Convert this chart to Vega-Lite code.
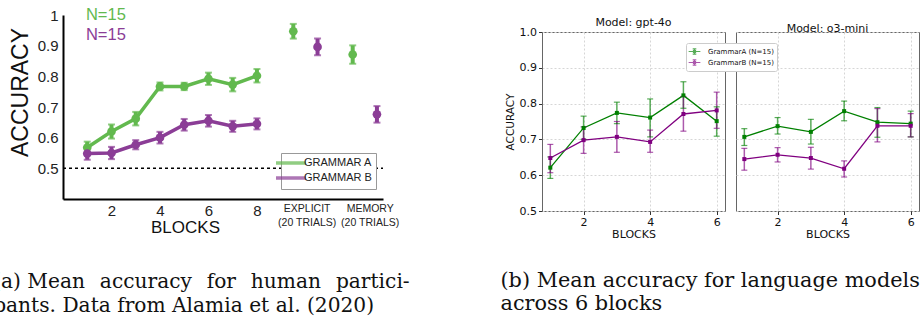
{
  "$schema": "https://vega.github.io/schema/vega-lite/v6.json",
  "background": "white",
  "padding": {"left": -7, "top": 7, "right": 0, "bottom": 0},
  "config": {"view": {"stroke": null}, "font": "Liberation Sans"},
  "datasets": {
    "human": [
      {"phase": "blocks", "grammar": "GRAMMAR A", "pos": 1, "acc": 0.568, "lo": 0.549, "hi": 0.587},
      {"phase": "blocks", "grammar": "GRAMMAR A", "pos": 2, "acc": 0.62, "lo": 0.597, "hi": 0.643},
      {"phase": "blocks", "grammar": "GRAMMAR A", "pos": 3, "acc": 0.662, "lo": 0.64, "hi": 0.684},
      {"phase": "blocks", "grammar": "GRAMMAR A", "pos": 4, "acc": 0.767, "lo": 0.754, "hi": 0.78},
      {"phase": "blocks", "grammar": "GRAMMAR A", "pos": 5, "acc": 0.767, "lo": 0.755, "hi": 0.779},
      {"phase": "blocks", "grammar": "GRAMMAR A", "pos": 6, "acc": 0.792, "lo": 0.772, "hi": 0.812},
      {"phase": "blocks", "grammar": "GRAMMAR A", "pos": 7, "acc": 0.773, "lo": 0.751, "hi": 0.795},
      {"phase": "blocks", "grammar": "GRAMMAR A", "pos": 8, "acc": 0.802, "lo": 0.78, "hi": 0.824},
      {"phase": "blocks", "grammar": "GRAMMAR B", "pos": 1, "acc": 0.548, "lo": 0.528, "hi": 0.568},
      {"phase": "blocks", "grammar": "GRAMMAR B", "pos": 2, "acc": 0.55, "lo": 0.53, "hi": 0.57},
      {"phase": "blocks", "grammar": "GRAMMAR B", "pos": 3, "acc": 0.577, "lo": 0.562, "hi": 0.592},
      {"phase": "blocks", "grammar": "GRAMMAR B", "pos": 4, "acc": 0.6, "lo": 0.581, "hi": 0.619},
      {"phase": "blocks", "grammar": "GRAMMAR B", "pos": 5, "acc": 0.642, "lo": 0.623, "hi": 0.661},
      {"phase": "blocks", "grammar": "GRAMMAR B", "pos": 6, "acc": 0.655, "lo": 0.636, "hi": 0.674},
      {"phase": "blocks", "grammar": "GRAMMAR B", "pos": 7, "acc": 0.637, "lo": 0.619, "hi": 0.655},
      {"phase": "blocks", "grammar": "GRAMMAR B", "pos": 8, "acc": 0.645, "lo": 0.627, "hi": 0.663},
      {"phase": "explicit", "grammar": "GRAMMAR A", "pos": 9.5, "acc": 0.947, "lo": 0.923, "hi": 0.971},
      {"phase": "explicit", "grammar": "GRAMMAR B", "pos": 10.5, "acc": 0.896, "lo": 0.869, "hi": 0.923},
      {"phase": "memory", "grammar": "GRAMMAR A", "pos": 11.95, "acc": 0.871, "lo": 0.841, "hi": 0.901},
      {"phase": "memory", "grammar": "GRAMMAR B", "pos": 12.95, "acc": 0.676, "lo": 0.649, "hi": 0.703}
    ],
    "llm": [
      {"model": "gpt-4o", "grammar": "GrammarA (N=15)", "block": 1, "acc": 0.621, "lo": 0.591, "hi": 0.651},
      {"model": "gpt-4o", "grammar": "GrammarA (N=15)", "block": 2, "acc": 0.732, "lo": 0.7, "hi": 0.765},
      {"model": "gpt-4o", "grammar": "GrammarA (N=15)", "block": 3, "acc": 0.774, "lo": 0.744, "hi": 0.804},
      {"model": "gpt-4o", "grammar": "GrammarA (N=15)", "block": 4, "acc": 0.761, "lo": 0.707, "hi": 0.813},
      {"model": "gpt-4o", "grammar": "GrammarA (N=15)", "block": 5, "acc": 0.823, "lo": 0.787, "hi": 0.861},
      {"model": "gpt-4o", "grammar": "GrammarA (N=15)", "block": 6, "acc": 0.751, "lo": 0.709, "hi": 0.791},
      {"model": "gpt-4o", "grammar": "GrammarB (N=15)", "block": 1, "acc": 0.648, "lo": 0.607, "hi": 0.686},
      {"model": "gpt-4o", "grammar": "GrammarB (N=15)", "block": 2, "acc": 0.698, "lo": 0.661, "hi": 0.735},
      {"model": "gpt-4o", "grammar": "GrammarB (N=15)", "block": 3, "acc": 0.707, "lo": 0.664, "hi": 0.75},
      {"model": "gpt-4o", "grammar": "GrammarB (N=15)", "block": 4, "acc": 0.693, "lo": 0.664, "hi": 0.726},
      {"model": "gpt-4o", "grammar": "GrammarB (N=15)", "block": 5, "acc": 0.771, "lo": 0.723, "hi": 0.82},
      {"model": "gpt-4o", "grammar": "GrammarB (N=15)", "block": 6, "acc": 0.781, "lo": 0.731, "hi": 0.832},
      {"model": "o3-mini", "grammar": "GrammarA (N=15)", "block": 1, "acc": 0.707, "lo": 0.683, "hi": 0.73},
      {"model": "o3-mini", "grammar": "GrammarA (N=15)", "block": 2, "acc": 0.737, "lo": 0.715, "hi": 0.761},
      {"model": "o3-mini", "grammar": "GrammarA (N=15)", "block": 3, "acc": 0.721, "lo": 0.687, "hi": 0.756},
      {"model": "o3-mini", "grammar": "GrammarA (N=15)", "block": 4, "acc": 0.779, "lo": 0.752, "hi": 0.807},
      {"model": "o3-mini", "grammar": "GrammarA (N=15)", "block": 5, "acc": 0.748, "lo": 0.706, "hi": 0.789},
      {"model": "o3-mini", "grammar": "GrammarA (N=15)", "block": 6, "acc": 0.744, "lo": 0.707, "hi": 0.779},
      {"model": "o3-mini", "grammar": "GrammarB (N=15)", "block": 1, "acc": 0.645, "lo": 0.614, "hi": 0.675},
      {"model": "o3-mini", "grammar": "GrammarB (N=15)", "block": 2, "acc": 0.657, "lo": 0.637, "hi": 0.677},
      {"model": "o3-mini", "grammar": "GrammarB (N=15)", "block": 3, "acc": 0.648, "lo": 0.617, "hi": 0.678},
      {"model": "o3-mini", "grammar": "GrammarB (N=15)", "block": 4, "acc": 0.618, "lo": 0.595, "hi": 0.64},
      {"model": "o3-mini", "grammar": "GrammarB (N=15)", "block": 5, "acc": 0.738, "lo": 0.693, "hi": 0.786},
      {"model": "o3-mini", "grammar": "GrammarB (N=15)", "block": 6, "acc": 0.738, "lo": 0.707, "hi": 0.772}
    ]
  },
  "resolve": {"scale": {"color": "independent", "x": "independent", "y": "independent"}, "legend": {"color": "independent"}},
  "align": "none",
  "spacing": 90,
  "hconcat": [
    {
      "width": 320,
      "height": 167,
      "data": {"name": "human"},
      "title": {"text": ["(a) Mean\u00a0\u200a accuracy\u00a0\u200a for\u00a0\u200a human\u00a0\u200a partici-", "pants. Data from Alamia et al. (2020)"], "orient": "bottom", "anchor": "start", "frame": "bounds", "offset": 37, "dx": -16, "font": "DejaVu Serif", "fontSize": 20.2, "fontWeight": "normal", "lineHeight": 24, "color": "#111"},
      "layer": [
        {
          "transform": [{"filter": "datum.phase == 'blocks'"}],
          "mark": {"type": "line", "strokeWidth": 3.5},
          "encoding": {
            "x": {"field": "pos", "type": "quantitative", "scale": {"domain": [0, 13.2], "nice": false, "zero": false},
              "axis": {"values": [2, 4, 6, 8, 10.05, 12.65], "tickCount": 20, "format": "d", "labelExpr": "datum.value > 12 ? ['MEMORY', '(20 TRIALS)'] : datum.value > 9 ? ['EXPLICIT', '(20 TRIALS)'] : datum.label",
                "labelFontSize": {"condition": {"test": "datum.value > 9", "value": 10.5}, "value": 15},
                "labelLineHeight": 14, "labelOverlap": false, "labelFlush": false, "labelBound": false,
                "ticks": false, "grid": false, "domainColor": "black", "domainWidth": 2, "labelColor": "#222", "labelPadding": 4,
                "title": "BLOCKS", "titleFontSize": 17, "titleFontWeight": "normal", "titleColor": "#111", "titleX": 122, "titleY": 20, "titleBaseline": "top"}},
            "y": {"field": "acc", "type": "quantitative", "scale": {"domain": [0.4, 1.0], "range": [167, -17], "nice": false, "zero": false},
              "axis": {"values": [0.5, 0.6, 0.7, 0.8, 0.9, 1.0], "tickCount": 20, "format": "~g", "labelFontSize": 15, "labelColor": "#222", "labelPadding": 5,
                "ticks": false, "grid": false, "domainColor": "black", "domainWidth": 2, "labelFlush": false, "labelOverlap": false,
                "title": "ACCURACY", "titleFontSize": 23, "titleFontWeight": "normal", "titleColor": "#111", "titleY": 60, "titlePadding": 5}},
            "color": {"field": "grammar", "type": "nominal", "scale": {"domain": ["GRAMMAR A", "GRAMMAR B"], "range": ["#62b94e", "#8b3d96"]},
              "legend": {"orient": "none", "legendX": 218, "legendY": 121, "title": null, "symbolType": "M-3.75,0H3.75", "symbolSize": 64, "symbolStrokeWidth": 3.5,
                "labelFontSize": 11, "labelColor": "#222", "labelOffset": 7, "padding": 4, "rowPadding": 1,
                "strokeColor": "#999", "fillColor": "white", "cornerRadius": 0}}
          }
        },
        {
          "data": {"values": [{"chance": 0.5}]},
          "mark": {"type": "rule", "strokeDash": [3, 3], "strokeWidth": 1.5, "color": "black"},
          "encoding": {
            "x": {"datum": 0, "type": "quantitative"},
            "x2": {"datum": 13.2},
            "y": {"field": "chance", "type": "quantitative"}
          }
        },
        {
          "mark": {"type": "rule", "strokeWidth": 4},
          "encoding": {
            "x": {"field": "pos", "type": "quantitative"},
            "y": {"field": "lo", "type": "quantitative"},
            "y2": {"field": "hi"},
            "color": {"field": "grammar", "type": "nominal"}
          }
        },
        {
          "mark": {"type": "tick", "orient": "horizontal", "size": 7, "thickness": 2},
          "encoding": {
            "x": {"field": "pos", "type": "quantitative"},
            "y": {"field": "hi", "type": "quantitative"},
            "color": {"field": "grammar", "type": "nominal"}
          }
        },
        {
          "mark": {"type": "tick", "orient": "horizontal", "size": 7, "thickness": 2},
          "encoding": {
            "x": {"field": "pos", "type": "quantitative"},
            "y": {"field": "lo", "type": "quantitative"},
            "color": {"field": "grammar", "type": "nominal"}
          }
        },
        {
          "mark": {"type": "point", "filled": true, "opacity": 1, "size": 75},
          "encoding": {
            "x": {"field": "pos", "type": "quantitative"},
            "y": {"field": "acc", "type": "quantitative"},
            "color": {"field": "grammar", "type": "nominal"}
          }
        },
        {
          "data": {"values": [{"label": "N=15"}]},
          "mark": {"type": "text", "color": "#62b94e", "fontSize": 16.5, "align": "center", "baseline": "middle"},
          "encoding": {
            "x": {"datum": 1.77, "type": "quantitative"},
            "y": {"datum": 1.0, "type": "quantitative"},
            "text": {"field": "label"}
          }
        },
        {
          "data": {"values": [{"label": "N=15"}]},
          "mark": {"type": "text", "color": "#8b3d96", "fontSize": 16.5, "align": "center", "baseline": "middle"},
          "encoding": {
            "x": {"datum": 1.77, "type": "quantitative"},
            "y": {"datum": 0.935, "type": "quantitative"},
            "text": {"field": "label"}
          }
        }
      ]
    },
    {
      "data": {"name": "llm"},
      "title": {"text": ["(b) Mean accuracy for language models", "across 6 blocks"], "orient": "bottom", "anchor": "start", "frame": "bounds", "offset": 31, "dx": -4, "font": "DejaVu Serif", "fontSize": 20.8, "fontWeight": "normal", "lineHeight": 23, "color": "#111"},
      "spacing": 9,
      "hconcat": [
        {
          "width": 183,
          "height": 179,
          "view": {"stroke": "#666", "strokeWidth": 1},
          "title": {"text": "Model: gpt-4o", "font": "DejaVu Sans", "fontSize": 11, "fontWeight": "normal", "offset": 3, "dy": 5, "color": "#111"},
          "transform": [{"filter": "datum.model == 'gpt-4o'"}],
          "layer": [
            {
              "mark": {"type": "line", "strokeWidth": 1.3},
              "encoding": {
                "x": {"field": "block", "type": "quantitative", "scale": {"domain": [0.75, 6.25], "nice": false, "zero": false},
                  "axis": {"values": [2, 4, 6], "tickCount": 20, "format": "d", "grid": true, "gridDash": [2, 2], "gridColor": "#d6d6d6", "domain": false, "tickSize": 3.5, "tickColor": "#333",
                    "labelFont": "DejaVu Sans", "labelFontSize": 11, "labelColor": "#111", "labelPadding": 2, "labelFlush": false, "labelOverlap": false,
                    "title": "BLOCKS", "titleFont": "DejaVu Sans", "titleFontSize": 11, "titleFontWeight": "normal", "titleColor": "#111", "titlePadding": 1}},
                "y": {"field": "acc", "type": "quantitative", "scale": {"domain": [0.5, 1.0], "nice": false, "zero": false},
                  "axis": {"values": [0.5, 0.6, 0.7, 0.8, 0.9, 1.0], "tickCount": 20, "format": ".1f", "grid": true, "gridDash": [2, 2], "gridColor": "#d6d6d6", "domain": false, "tickSize": 3.5, "tickColor": "#333",
                    "labelFont": "DejaVu Sans", "labelFontSize": 11, "labelColor": "#111", "labelPadding": 2, "labelFlush": false, "labelOverlap": false,
                    "title": "ACCURACY", "titleFont": "DejaVu Sans", "titleFontSize": 10.5, "titleFontWeight": "normal", "titleColor": "#111", "titlePadding": 4}},
                "color": {"field": "grammar", "type": "nominal", "scale": {"domain": ["GrammarA (N=15)", "GrammarB (N=15)"], "range": ["#008000", "#800080"]},
                  "legend": {"orient": "none", "legendX": 144, "legendY": 11, "title": null,
                    "symbolType": "M-1.3,0H1.3M0,-0.6V0.6M-0.4,-0.6H0.4M-0.4,0.6H0.4M-0.22,-0.22H0.22V0.22H-0.22Z", "symbolSize": 81, "symbolStrokeWidth": 1.2,
                    "labelFont": "DejaVu Sans", "labelFontSize": 7, "labelColor": "#111", "labelOffset": 8, "padding": 3, "rowPadding": 0,
                    "strokeColor": "#cccccc", "fillColor": "white", "cornerRadius": 2}}
              }
            },
            {
              "mark": {"type": "rule", "strokeWidth": 1.5, "opacity": 0.65},
              "encoding": {
                "x": {"field": "block", "type": "quantitative"},
                "y": {"field": "lo", "type": "quantitative"},
                "y2": {"field": "hi"},
                "color": {"field": "grammar", "type": "nominal"}
              }
            },
            {
              "mark": {"type": "tick", "orient": "horizontal", "size": 6, "thickness": 1.2, "opacity": 0.65},
              "encoding": {
                "x": {"field": "block", "type": "quantitative"},
                "y": {"field": "hi", "type": "quantitative"},
                "color": {"field": "grammar", "type": "nominal"}
              }
            },
            {
              "mark": {"type": "tick", "orient": "horizontal", "size": 6, "thickness": 1.2, "opacity": 0.65},
              "encoding": {
                "x": {"field": "block", "type": "quantitative"},
                "y": {"field": "lo", "type": "quantitative"},
                "color": {"field": "grammar", "type": "nominal"}
              }
            },
            {
              "mark": {"type": "point", "shape": "square", "filled": true, "opacity": 1, "size": 16},
              "encoding": {
                "x": {"field": "block", "type": "quantitative"},
                "y": {"field": "acc", "type": "quantitative"},
                "color": {"field": "grammar", "type": "nominal"}
              }
            }
          ]
        },
        {
          "width": 183,
          "height": 179,
          "view": {"stroke": "#666", "strokeWidth": 1},
          "title": {"text": "Model: o3-mini", "font": "DejaVu Sans", "fontSize": 11, "fontWeight": "normal", "offset": 3, "dy": 5, "color": "#111"},
          "transform": [{"filter": "datum.model == 'o3-mini'"}],
          "layer": [
            {
              "mark": {"type": "line", "strokeWidth": 1.3},
              "encoding": {
                "x": {"field": "block", "type": "quantitative", "scale": {"domain": [0.75, 6.25], "nice": false, "zero": false},
                  "axis": {"values": [2, 4, 6], "tickCount": 20, "format": "d", "grid": true, "gridDash": [2, 2], "gridColor": "#d6d6d6", "domain": false, "tickSize": 3.5, "tickColor": "#333",
                    "labelFont": "DejaVu Sans", "labelFontSize": 11, "labelColor": "#111", "labelPadding": 2, "labelFlush": false, "labelOverlap": false,
                    "title": "BLOCKS", "titleFont": "DejaVu Sans", "titleFontSize": 11, "titleFontWeight": "normal", "titleColor": "#111", "titlePadding": 1}},
                "y": {"field": "acc", "type": "quantitative", "scale": {"domain": [0.5, 1.0], "nice": false, "zero": false},
                  "axis": {"values": [0.5, 0.6, 0.7, 0.8, 0.9, 1.0], "tickCount": 20, "grid": true, "gridDash": [2, 2], "gridColor": "#d6d6d6", "domain": false, "ticks": false, "labels": false, "title": null}},
                "color": {"field": "grammar", "type": "nominal", "scale": {"domain": ["GrammarA (N=15)", "GrammarB (N=15)"], "range": ["#008000", "#800080"]}}
              }
            },
            {
              "mark": {"type": "rule", "strokeWidth": 1.5, "opacity": 0.65},
              "encoding": {
                "x": {"field": "block", "type": "quantitative"},
                "y": {"field": "lo", "type": "quantitative"},
                "y2": {"field": "hi"},
                "color": {"field": "grammar", "type": "nominal"}
              }
            },
            {
              "mark": {"type": "tick", "orient": "horizontal", "size": 6, "thickness": 1.2, "opacity": 0.65},
              "encoding": {
                "x": {"field": "block", "type": "quantitative"},
                "y": {"field": "hi", "type": "quantitative"},
                "color": {"field": "grammar", "type": "nominal"}
              }
            },
            {
              "mark": {"type": "tick", "orient": "horizontal", "size": 6, "thickness": 1.2, "opacity": 0.65},
              "encoding": {
                "x": {"field": "block", "type": "quantitative"},
                "y": {"field": "lo", "type": "quantitative"},
                "color": {"field": "grammar", "type": "nominal"}
              }
            },
            {
              "mark": {"type": "point", "shape": "square", "filled": true, "opacity": 1, "size": 16},
              "encoding": {
                "x": {"field": "block", "type": "quantitative"},
                "y": {"field": "acc", "type": "quantitative"},
                "color": {"field": "grammar", "type": "nominal"}
              }
            }
          ]
        }
      ]
    }
  ]
}
